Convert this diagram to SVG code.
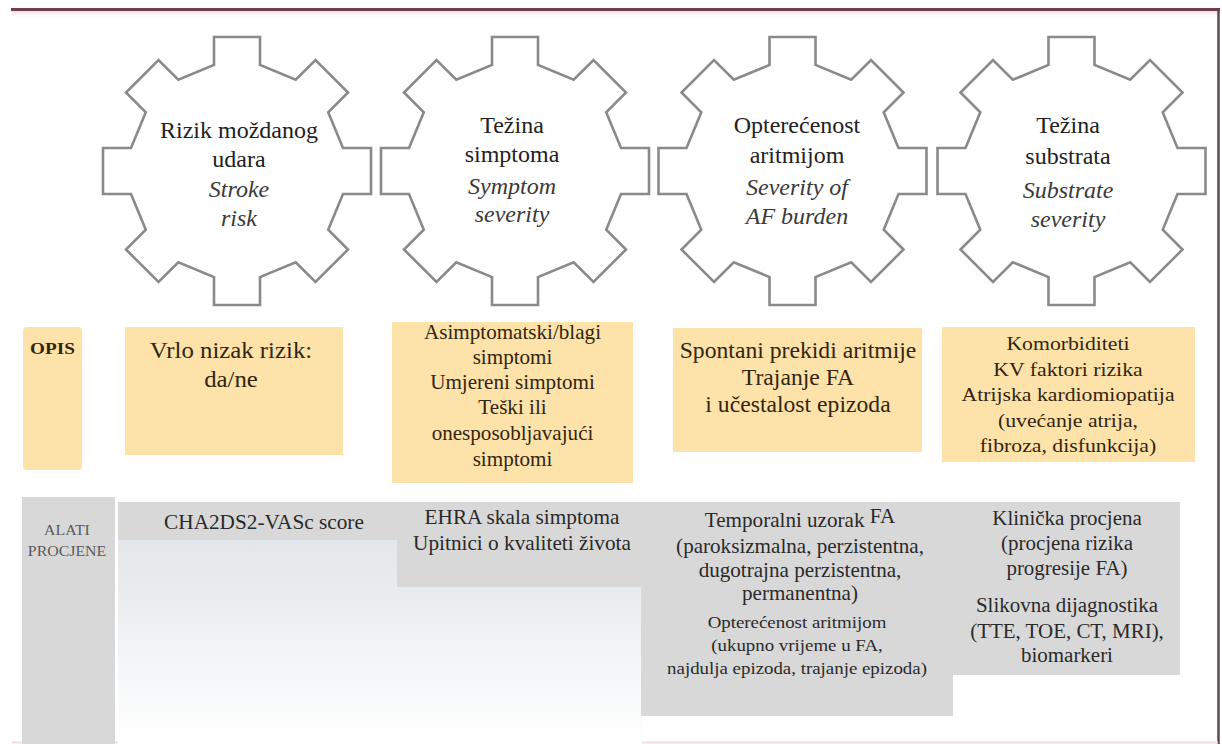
<svg xmlns="http://www.w3.org/2000/svg" width="1222" height="744" viewBox="0 0 1222 744">
<style>
  .gear { fill: #ffffff; stroke: #8a8a8a; stroke-width: 2.6; stroke-linejoin: miter; }
  .gt { fill: #222222; text-anchor: middle; }
  .gi { font-style: italic; fill: #3a3a3a; text-anchor: middle; }
  .opis { fill: #fde2aa; }
  .ot { fill: #33250f; text-anchor: middle; }
  .tool { fill: #d8d8d8; }
  .tt { fill: #2a2a2a; text-anchor: middle; }
</style>
<defs>
  <path id="gearShape" class="gear" d="M-23,-106 L-23,-134 L23,-134 L23,-106 L58.69,-91.21 L78.49,-111.01 L111.01,-78.49 L91.21,-58.69 L106,-23 L134,-23 L134,23 L106,23 L91.21,58.69 L111.01,78.49 L78.49,111.01 L58.69,91.21 L23,106 L23,134 L-23,134 L-23,106 L-58.69,91.21 L-78.49,111.01 L-111.01,78.49 L-91.21,58.69 L-106,23 L-134,23 L-134,-23 L-106,-23 L-91.21,-58.69 L-111.01,-78.49 L-78.49,-111.01 L-58.69,-91.21 Z"/>
  <linearGradient id="fadeGray" x1="0" y1="0" x2="0" y2="1">
    <stop offset="0" stop-color="#dde2e6"/>
    <stop offset="1" stop-color="#ffffff"/>
  </linearGradient>
  <linearGradient id="topFade" x1="0" y1="0" x2="0" y2="1">
    <stop offset="0" stop-color="#f3d9e2"/>
    <stop offset="1" stop-color="#ffffff" stop-opacity="0"/>
  </linearGradient>
</defs>

<rect x="0" y="0" width="1222" height="744" fill="#ffffff"/>

<g id="frame">
  <rect x="12" y="11" width="1206" height="8" fill="url(#topFade)"/>
  <line x1="11" y1="9.5" x2="1220" y2="9.5" stroke="#6e3f50" stroke-width="3"/>
  <line x1="1218.5" y1="9" x2="1218.5" y2="744" stroke="#5a4a50" stroke-width="2.5"/>
  <line x1="12" y1="742.5" x2="1218" y2="742.5" stroke="#f1dbe2" stroke-width="2"/>
</g>

<g font-family="Liberation Serif, Times New Roman, serif" font-size="16">

<g id="gear-stroke-risk">
  <use href="#gearShape" transform="translate(237,171)"/>
  <g transform="translate(239,138) scale(1.5,1.4)">
    <text class="gt" x="0" y="0">Rizik moždanog</text>
    <text class="gt" x="0" y="20.7">udara</text>
    <text class="gi" x="0" y="42.1">Stroke</text>
    <text class="gi" x="0" y="62.9">risk</text>
  </g>
</g>

<g id="gear-symptom-severity">
  <use href="#gearShape" transform="translate(515,171)"/>
  <g transform="translate(512,133) scale(1.5,1.4)">
    <text class="gt" x="0" y="0">Težina</text>
    <text class="gt" x="0" y="20.7">simptoma</text>
    <text class="gi" x="0" y="43.6">Symptom</text>
    <text class="gi" x="0" y="63.6">severity</text>
  </g>
</g>

<g id="gear-af-burden">
  <use href="#gearShape" transform="translate(792.5,171)"/>
  <g transform="translate(797,133) scale(1.5,1.4)">
    <text class="gt" x="0" y="0">Opterećenost</text>
    <text class="gt" x="0" y="21.4">aritmijom</text>
    <text class="gi" x="0" y="44.3">Severity of</text>
    <text class="gi" x="0" y="65">AF burden</text>
  </g>
</g>

<g id="gear-substrate-severity">
  <use href="#gearShape" transform="translate(1071.5,171)"/>
  <g transform="translate(1068,133) scale(1.5,1.4)">
    <text class="gt" x="0" y="0">Težina</text>
    <text class="gt" x="0" y="22.1">substrata</text>
    <text class="gi" x="0" y="46.4">Substrate</text>
    <text class="gi" x="0" y="67.1">severity</text>
  </g>
</g>

<g id="opis-label">
  <rect class="opis" x="23" y="327" width="59" height="143" rx="4"/>
  <text class="ot" transform="translate(52.5,354) scale(1.2,1.05)" font-weight="bold">OPIS</text>
</g>

<g id="opis-stroke">
  <rect class="opis" x="125" y="327" width="218" height="128"/>
  <g transform="translate(231,358) scale(1.55,1.45)">
    <text class="ot" x="0" y="0">Vrlo nizak rizik:</text>
    <text class="ot" x="0" y="20">da/ne</text>
  </g>
</g>

<g id="opis-symptom">
  <rect class="opis" x="392" y="322" width="241" height="161"/>
  <g transform="translate(512.5,339) scale(1.32,1.25)">
    <text class="ot" x="0" y="0">Asimptomatski/blagi</text>
    <text class="ot" x="0" y="20">simptomi</text>
    <text class="ot" x="0" y="40">Umjereni simptomi</text>
    <text class="ot" x="0" y="60">Teški ili</text>
    <text class="ot" x="0" y="80.8">onesposobljavajući</text>
    <text class="ot" x="0" y="101.6">simptomi</text>
  </g>
</g>

<g id="opis-burden">
  <rect class="opis" x="673" y="328" width="249" height="124"/>
  <g transform="translate(798,358) scale(1.48,1.4)">
    <text class="ot" x="0" y="0">Spontani prekidi aritmije</text>
    <text class="ot" x="0" y="19.3">Trajanje FA</text>
    <text class="ot" x="0" y="38.6">i učestalost epizoda</text>
  </g>
</g>

<g id="opis-substrate">
  <rect class="opis" x="942" y="327" width="253" height="135"/>
  <g transform="translate(1068,350) scale(1.36,1.2)">
    <text class="ot" x="0" y="0">Komorbiditeti</text>
    <text class="ot" x="0" y="21.7">KV faktori rizika</text>
    <text class="ot" x="0" y="42.5">Atrijska kardiomiopatija</text>
    <text class="ot" x="0" y="64.2">(uvećanje atrija,</text>
    <text class="ot" x="0" y="85">fibroza, disfunkcija)</text>
  </g>
</g>

<g id="alati-label">
  <rect class="tool" x="22" y="497" width="93" height="247"/>
  <g transform="translate(67,535) scale(1.22,1.05)" font-size="13" fill="#5a5a5a">
    <text x="0" y="0" text-anchor="middle">ALATI</text>
    <text x="0" y="20" text-anchor="middle">PROCJENE</text>
  </g>
</g>

<rect id="tools-background" x="118" y="502" width="524" height="242" fill="url(#fadeGray)"/>

<g id="tools-stroke">
  <rect class="tool" x="118" y="502" width="279" height="38"/>
  <text class="tt" transform="translate(264,529) scale(1.33,1.25)">CHA2DS2-VASc score</text>
</g>

<g id="tools-symptom">
  <rect class="tool" x="397" y="502" width="245" height="85"/>
  <g transform="translate(522,524) scale(1.33,1.25)">
    <text class="tt" x="0" y="0">EHRA skala simptoma</text>
    <text class="tt" x="0" y="20.8">Upitnici o kvaliteti života</text>
  </g>
</g>

<g id="tools-burden">
  <rect class="tool" x="641" y="502" width="312" height="214"/>
  <g transform="translate(800,527) scale(1.32,1.25)">
    <text class="tt" x="0" y="0">Temporalni uzorak  <tspan dy="-3">FA</tspan></text>
    <text class="tt" x="0" y="20.8">(paroksizmalna, perzistentna,</text>
    <text class="tt" x="0" y="40">dugotrajna perzistentna,</text>
    <text class="tt" x="0" y="58.4">permanentna)</text>
  </g>
  <g transform="translate(797,628) scale(1.18,1.05)">
    <text class="tt" x="0" y="0">Opterećenost aritmijom</text>
    <text class="tt" x="0" y="21.9">(ukupno vrijeme u FA,</text>
    <text class="tt" x="0" y="43.8">najdulja epizoda, trajanje epizoda)</text>
  </g>
</g>

<g id="tools-substrate">
  <rect class="tool" x="952" y="502" width="228" height="173"/>
  <g transform="translate(1067,525) scale(1.31,1.25)">
    <text class="tt" x="0" y="0">Klinička procjena</text>
    <text class="tt" x="0" y="20">(procjena rizika</text>
    <text class="tt" x="0" y="40">progresije FA)</text>
    <text class="tt" x="0" y="69.6">Slikovna dijagnostika</text>
    <text class="tt" x="0" y="90.4">(TTE, TOE, CT, MRI),</text>
    <text class="tt" x="0" y="109.6">biomarkeri</text>
  </g>
</g>

</g>

<g id="connectors"/>
</svg>
